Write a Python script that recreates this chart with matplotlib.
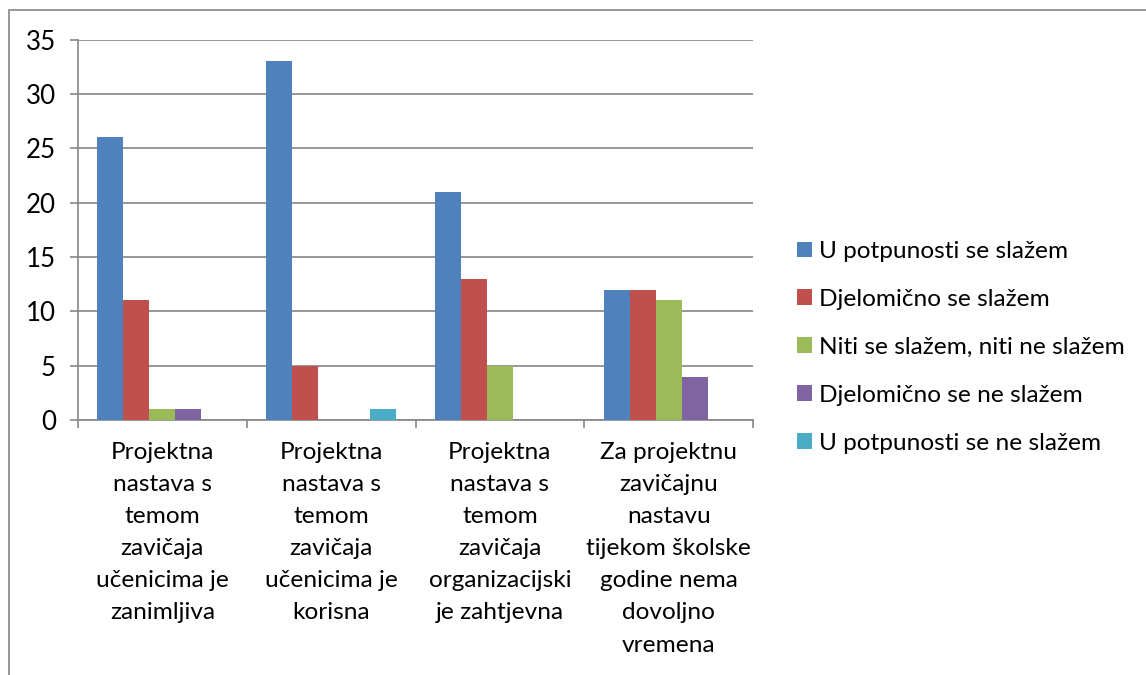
import numpy as np
import matplotlib
matplotlib.use("Agg")
import matplotlib.pyplot as plt
from matplotlib.patches import Rectangle, Patch

plt.rcParams['font.family'] = ['Lato', 'DejaVu Sans']

# Data
categories = [
    "Projektna\nnastava s\ntemom\nzavičaja\nučenicima je\nzanimljiva",
    "Projektna\nnastava s\ntemom\nzavičaja\nučenicima je\nkorisna",
    "Projektna\nnastava s\ntemom\nzavičaja\norganizacijski\nje zahtjevna",
    "Za projektnu\nzavičajnu\nnastavu\ntijekom školske\ngodine nema\ndovoljno\nvremena",
]
series_names = [
    "U potpunosti se slažem",
    "Djelomično se slažem",
    "Niti se slažem, niti ne slažem",
    "Djelomično se ne slažem",
    "U potpunosti se ne slažem",
]
u_potpunosti = [26, 33, 21, 12]
djelomicno = [11, 5, 13, 12]
niti_niti = [1, 0, 5, 11]
djelomicno_ne = [1, 0, 0, 4]
u_potpunosti_ne = [0, 1, 0, 0]
values = [u_potpunosti, djelomicno, niti_niti, djelomicno_ne, u_potpunosti_ne]
colors = ["#4F81BD", "#C0504D", "#9BBB59", "#8064A2", "#4BACC6"]

W, H = 1146, 675
fs = 17.6
fig = plt.figure(figsize=(W / 100, H / 100), dpi=100)
# outer chart border (right/bottom edges lie outside the picture)
fig.patches.append(Rectangle((9 / W, -0.1), 1.2, 1 - 10 / H + 0.1, transform=fig.transFigure,
                             fill=False, edgecolor="#868686", linewidth=1.2))

ax = fig.add_axes([78 / W, 1 - 420 / H, (753 - 78) / W, (420 - 39.5) / H])

n = len(series_names)
bw = 1 / 6.5
x = np.arange(len(categories))
for i in range(n):
    ax.bar(x - 2 * bw + i * bw, values[i], width=bw, color=colors[i],
           label=series_names[i], zorder=3)

ax.set_xlim(-0.5, len(categories) - 0.5)
ax.set_ylim(0, 35)
ax.set_yticks(range(0, 36, 5))
ax.yaxis.grid(True, color="#868686", linewidth=1.2, zorder=0)
ax.tick_params(axis='y', direction='out', length=6, width=1.2, color="#868686",
               labelsize=fs + 1, pad=10)

ax.set_xticks(np.arange(-0.5, len(categories), 1))
ax.set_xticklabels([])
ax.set_xticks(x, minor=True)
ax.set_xticklabels(categories, minor=True, fontsize=fs, linespacing=1.65, va='top')
ax.tick_params(axis='x', which='major', direction='out', length=6, width=1.2, color="#868686")
ax.tick_params(axis='x', which='minor', length=0, pad=16)

for s in ['top', 'right']:
    ax.spines[s].set_visible(False)
for s in ['left', 'bottom']:
    ax.spines[s].set_color("#868686")
    ax.spines[s].set_linewidth(1.2)

handles = [Patch(facecolor=c, edgecolor='none') for c in colors]
fig.legend(handles, series_names, loc='upper left',
           bbox_to_anchor=(797 / W, 1 - 241 / H), frameon=False, fontsize=fs,
           handlelength=0.61, handleheight=0.61, handletextpad=0.3,
           labelspacing=1.1, borderpad=0, borderaxespad=0)

fig.savefig("out.png", dpi=100)
